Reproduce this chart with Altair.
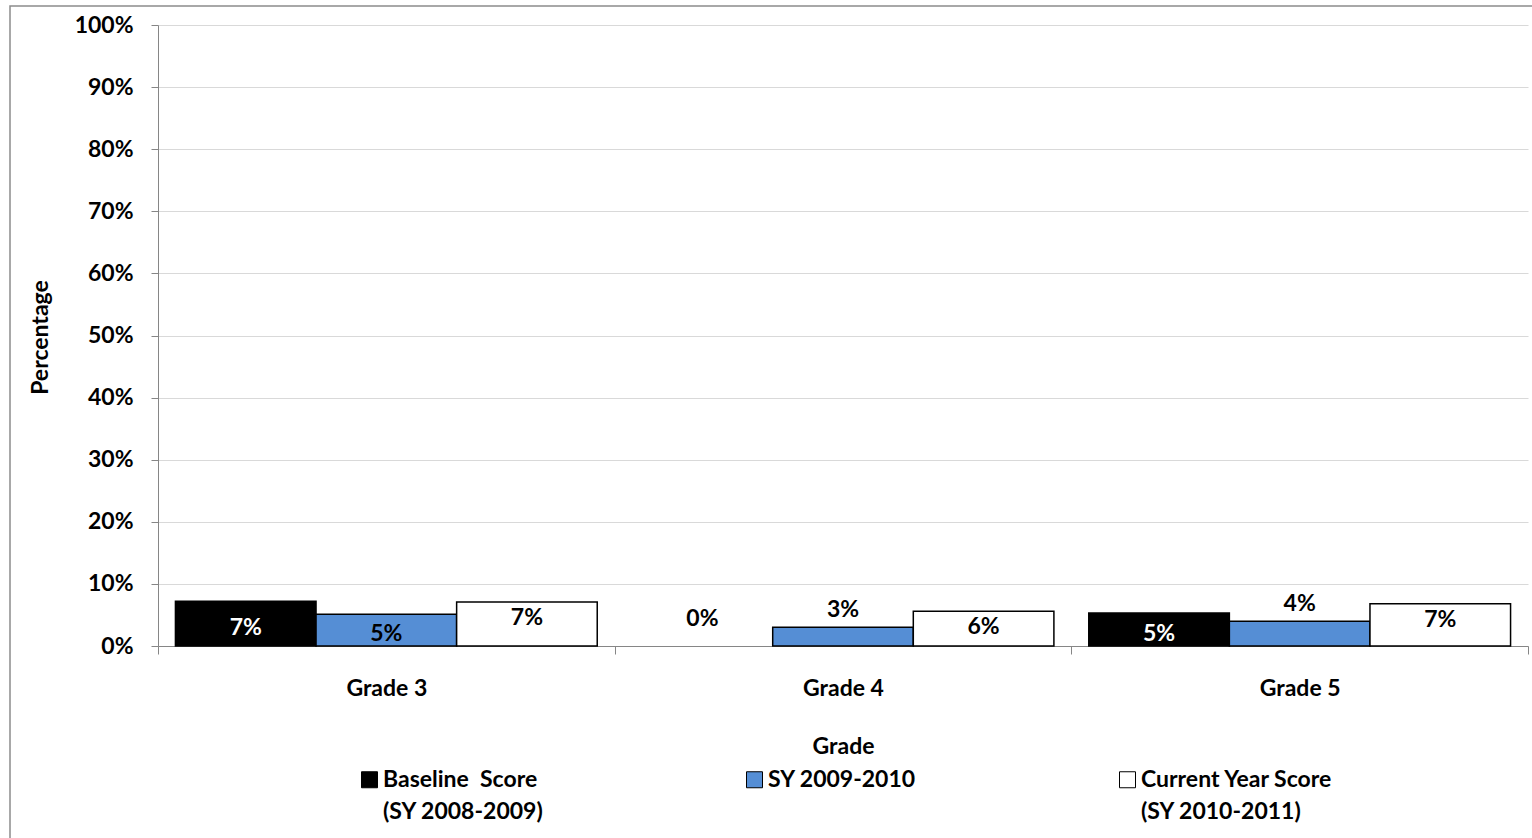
import altair as alt
import pandas as pd

# Grades and score series
grades = ["Grade 3", "Grade 4", "Grade 5"]
series = [
    "Baseline\u00a0 Score (SY 2008-2009)",
    "SY 2009-2010",
    "Current Year Score (SY 2010-2011)",
]
baseline = [0.072, 0.0, 0.053]
sy_0910 = [0.051, 0.030, 0.040]
current = [0.071, 0.056, 0.068]

y_ticks = [i / 10 for i in range(11)]
colors = ["#000000", "#558ED5", "#FFFFFF"]

rows = []
for name, vals in zip(series, [baseline, sy_0910, current]):
    for g, v in zip(grades, vals):
        rows.append({"grade": g, "series": name, "value": v})
df = pd.DataFrame(rows)

FONT = "Lato"
AXIS_GRAY = "#868686"
FS = 23

x_enc = alt.X(
    "grade:N",
    sort=grades,
    scale=alt.Scale(paddingInner=0, paddingOuter=0),
    axis=alt.Axis(
        title="Grade",
        labelAngle=0,
        tickBand="extent",
        grid=False,
        domainColor=AXIS_GRAY,
        tickColor=AXIS_GRAY,
        tickSize=8,
        labelPadding=34,
        labelBaseline="middle",
        labelFontSize=FS,
        titleFontSize=FS,
        titleY=100,
        titleBaseline="middle",
    ),
)
xo_enc = alt.XOffset(
    "series:N", sort=series, scale=alt.Scale(paddingInner=0, paddingOuter=0.124)
)
y_scale = alt.Scale(domain=[0, 1], nice=False)
y_enc = alt.Y(
    "value:Q",
    scale=y_scale,
    axis=alt.Axis(
        title="Percentage",
        values=y_ticks,
        format=".0%",
        grid=True,
        gridColor="#D9D9D9",
        gridWidth=1.2,
        domainColor=AXIS_GRAY,
        tickColor=AXIS_GRAY,
        tickSize=7,
        labelPadding=18,
        labelFontSize=FS,
        titleFontSize=FS,
        titleX=-118,
        titleY=312,
        titleAngle=270,
        titleAlign="center",
        titleBaseline="middle",
    ),
)

# two-line legend labels; the single-line entry gets an empty second line
# so that every entry has the same height
legend_label = (
    "indexof(datum.label, ' (') > 0 ? "
    "[substring(datum.label, 0, indexof(datum.label, ' (')), "
    "'\u00a0' + substring(datum.label, indexof(datum.label, '('))] : "
    "[datum.label, '']"
)

legend = alt.Legend(
    title=None,
    orient="none",
    legendX=200,
    legendY=743,
    direction="horizontal",
    columns=3,
    columnPadding=199,
    symbolType="square",
    symbolSize=256,
    symbolStrokeColor="#000000",
    symbolStrokeWidth=1,
    labelOffset=2,
    labelFontSize=FS,
    labelFontWeight="bold",
    labelColor="#000000",
    labelLimit=400,
    labelBaseline="middle",
    padding=0,
    labelExpr=legend_label,
)

base = alt.Chart(df)

bars = base.transform_filter("datum.value > 0").mark_bar(
    stroke="#000000", strokeWidth=1.5
).encode(
    x=x_enc,
    xOffset=xo_enc,
    y=y_enc,
    fill=alt.Fill(
        "series:N",
        sort=series,
        scale=alt.Scale(domain=series, range=colors),
        legend=legend,
    ),
)

text_common = dict(font=FONT, fontSize=FS, fontWeight="bold", baseline="middle")
x_plain = alt.X("grade:N", sort=grades)
label_text = alt.Text("value:Q", format=".0%")

# labels in the middle of the taller baseline / 2009-10 bars
centered = (
    base.transform_filter(
        f"(datum.series == '{series[0]}' && datum.value > 0) || "
        f"(datum.series == '{series[1]}' && datum.value >= 0.05)"
    )
    .transform_calculate(mid="datum.value / 2")
    .mark_text(dy=4, **text_common)
    .encode(
        x=x_plain,
        xOffset=xo_enc,
        y=alt.Y("mid:Q", scale=y_scale),
        text=label_text,
        color=alt.condition(
            f"datum.series == '{series[0]}'", alt.value("#FFFFFF"), alt.value("#000000")
        ),
    )
)

# labels above the short 2009-10 bars
above = (
    base.transform_filter(
        f"datum.series == '{series[1]}' && datum.value < 0.05"
    )
    .mark_text(dy=-17, color="#000000", **text_common)
    .encode(
        x=x_plain,
        xOffset=xo_enc,
        y=alt.Y("value:Q", scale=y_scale),
        text=label_text,
    )
)

# label for an empty baseline bar
zero = (
    base.transform_filter(f"datum.series == '{series[0]}' && datum.value == 0")
    .mark_text(dy=-27, color="#000000", **text_common)
    .encode(
        x=x_plain,
        xOffset=xo_enc,
        y=alt.Y("value:Q", scale=y_scale),
        text=label_text,
    )
)

# labels just inside the top of the current-year bars
inside_top = (
    base.transform_filter(f"datum.series == '{series[2]}'")
    .mark_text(dy=16, color="#000000", **text_common)
    .encode(
        x=x_plain,
        xOffset=xo_enc,
        y=alt.Y("value:Q", scale=y_scale),
        text=label_text,
    )
)

# outer chart frame
frame = alt.Chart(pd.DataFrame({"frame": [0]})).mark_rect(
    fill=None, stroke="#8C8C8C", strokeWidth=1.5
).encode(
    x=alt.value(-148), x2=alt.value(1380), y=alt.value(-19), y2=alt.value(820)
)

chart = (
    alt.layer(frame, bars, centered, above, zero, inside_top)
    .properties(
        width=1370,
        height=621,
        padding={"left": 158, "top": 25, "right": 4, "bottom": 192},
        autosize=alt.AutoSizeParams(type="none"),
    )
    .configure(font=FONT, style={"guide-label": {"lineHeight": 32}})
    .configure_view(stroke=None)
    .configure_axis(
        labelFont=FONT,
        titleFont=FONT,
        labelFontWeight="bold",
        titleFontWeight="bold",
        labelColor="#000000",
        titleColor="#000000",
    )
    .configure_legend(labelFont=FONT)
)

chart.save("out.html", embed_options={"renderer": "svg", "actions": False})
